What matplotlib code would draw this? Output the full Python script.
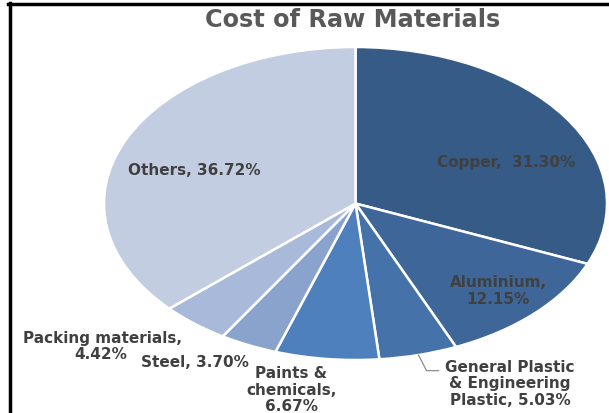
import matplotlib
matplotlib.use("Agg")
import matplotlib.pyplot as plt
import numpy as np

title = "Cost of Raw Materials"
categories = ["Copper", "Aluminium", "General Plastic & Engineering Plastic",
              "Paints & chemicals", "Steel", "Packing materials", "Others"]
values = [31.30, 12.15, 5.03, 6.67, 3.70, 4.42, 36.72]
label_texts = ["Copper,  31.30%", "Aluminium,\n12.15%",
               "General Plastic\n& Engineering\nPlastic, 5.03%",
               "Paints &\nchemicals,\n6.67%", "Steel, 3.70%",
               "Packing materials,", "Others, 36.72%"]
extra_texts = ["4.42%"]
colors = ["#365B87", "#3E6698", "#4672AA", "#4E80BD", "#8AA3CC", "#A9B9D9", "#C3CDE2"]
label_pos = [(0.598, 0.265), (0.567, -0.559), (0.614, -1.153), (-0.256, -1.192),
             (-0.638, -1.013), (-1.004, -0.863), (-0.642, 0.208)]
extra_pos = [(-1.012, -0.967)]

fig = plt.figure(figsize=(6.09, 4.13), dpi=100)
ax = fig.add_axes([104/609, 53/413, 503/609, 313/413])
wedges, _ = ax.pie(values, colors=colors, startangle=90, counterclock=False,
                   wedgeprops=dict(edgecolor="white", linewidth=1.8), radius=1)
ax.set_aspect("auto")
ax.set_xlim(-1, 1)
ax.set_ylim(-1, 1)

fp = dict(family="DejaVu Sans", weight="bold", fontsize=11, color="#404040")
for t, (x, y) in zip(label_texts + extra_texts, label_pos + extra_pos):
    ax.text(x, y, t, ha="center", va="center", linespacing=1.12, **fp)

# leader line for General Plastic
w = wedges[2]
mid = np.deg2rad((w.theta1 + w.theta2) / 2)
sx, sy = np.cos(mid), np.sin(mid)
ax.plot([sx, sx + 0.032, sx + 0.08], [sy, sy - 0.10, sy - 0.10], color="#8C8C8C",
        lw=0.9, clip_on=False)

fig.text(353/609, 1 - 20/413, title, ha="center", va="center", family="DejaVu Sans",
         weight="bold", fontsize=17.3, color="#595959")

# frame
fig.add_artist(plt.Line2D([9.5/609, 9.5/609], [0, 1 - 3/413], color="black", lw=2.5,
                          transform=fig.transFigure))
fig.add_artist(plt.Line2D([8/609, 1], [1 - 4/413, 1 - 4/413], color="black", lw=2.5,
                          transform=fig.transFigure))
fig.savefig("out.png", dpi=100)
